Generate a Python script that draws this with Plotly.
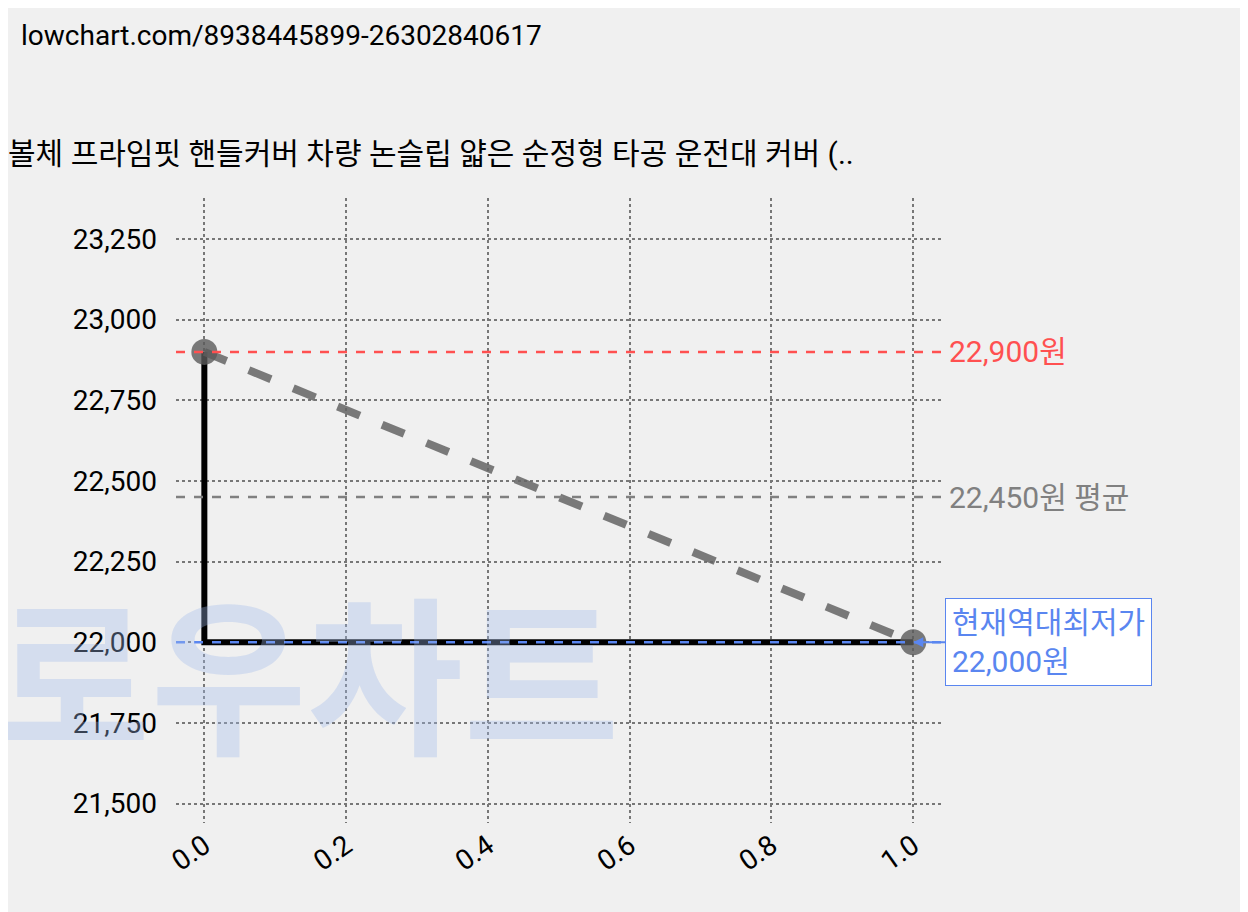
import plotly.graph_objects as go

x_pts = [0.0, 1.0]
prices = [22900, 22000]
max_price = 22900
avg_price = 22450
min_price = 22000
x_ticks = [0.0, 0.2, 0.4, 0.6, 0.8, 1.0]
y_ticks = [21500, 21750, 22000, 22250, 22500, 22750, 23000, 23250]

fig = go.Figure()
fig.add_trace(go.Scatter(x=x_pts, y=prices, mode="lines", line=dict(color="black", width=6, shape="vh")))
fig.add_trace(go.Scatter(x=x_pts, y=prices, mode="lines+markers",
                         line=dict(color="rgba(100,100,100,0.85)", width=8, dash="dash"),
                         marker=dict(size=26, color="rgba(90,90,90,0.8)")))

for val, col in [(max_price, "#ff5050"), (avg_price, "#808080"), (min_price, "#5a86f0")]:
    fig.add_shape(type="line", xref="paper", x0=0, x1=1, y0=val, y1=val,
                  line=dict(color=col, width=2.5, dash="dash"))

fig.add_annotation(xref="paper", x=1.005, y=max_price, text=f"{max_price:,}원", showarrow=False,
                   xanchor="left", font=dict(size=30, color="#ff5050"))
fig.add_annotation(xref="paper", x=1.005, y=avg_price, text=f"{avg_price:,}원 평균", showarrow=False,
                   xanchor="left", font=dict(size=30, color="#808080"))
fig.add_annotation(x=1.0, y=min_price, ax=32, ay=0, text=f"현재역대최저가<br>{min_price:,}원",
                   showarrow=True, arrowcolor="#5a86f0", arrowwidth=2, arrowhead=2,
                   xanchor="left", align="left", bgcolor="white", bordercolor="#5a86f0",
                   borderwidth=1, borderpad=6, font=dict(size=30, color="#5a86f0"))

fig.add_annotation(xref="paper", yref="paper", x=-0.24, y=0.06, text="<b>로우차트</b>",
                   showarrow=False, xanchor="left", yanchor="bottom",
                   font=dict(size=170, color="rgba(160,185,235,0.35)"))

fig.update_layout(
    width=1248, height=912,
    paper_bgcolor="#f0f0f0", plot_bgcolor="#f0f0f0",
    margin=dict(l=168, r=313, t=190, b=97),
    showlegend=False,
    font=dict(family="Roboto, Noto Sans CJK KR", size=28, color="black"),
    title=dict(text="볼체 프라임핏 핸들커버 차량 논슬립 얇은 순정형 타공 운전대 커버 (..",
               x=0.0, xanchor="left", y=0.84, yanchor="middle", font=dict(size=30)),
)
fig.add_annotation(xref="paper", yref="paper", x=-0.205, y=1.29, text="lowchart.com/8938445899-26302840617",
                   showarrow=False, xanchor="left", font=dict(size=28))
fig.update_xaxes(range=[-0.04, 1.042], tickvals=x_ticks, tickformat=".1f", tickangle=-35,
                 showgrid=True, gridcolor="#777", griddash="dot", gridwidth=2, zeroline=False,
                 showline=False, ticks="")
fig.update_yaxes(range=[21440, 23377], tickvals=y_ticks, tickformat=",",
                 showgrid=True, gridcolor="#777", griddash="dot", gridwidth=2, zeroline=False,
                 ticks="", ticklabelstandoff=18)
fig.write_html("out.html")
